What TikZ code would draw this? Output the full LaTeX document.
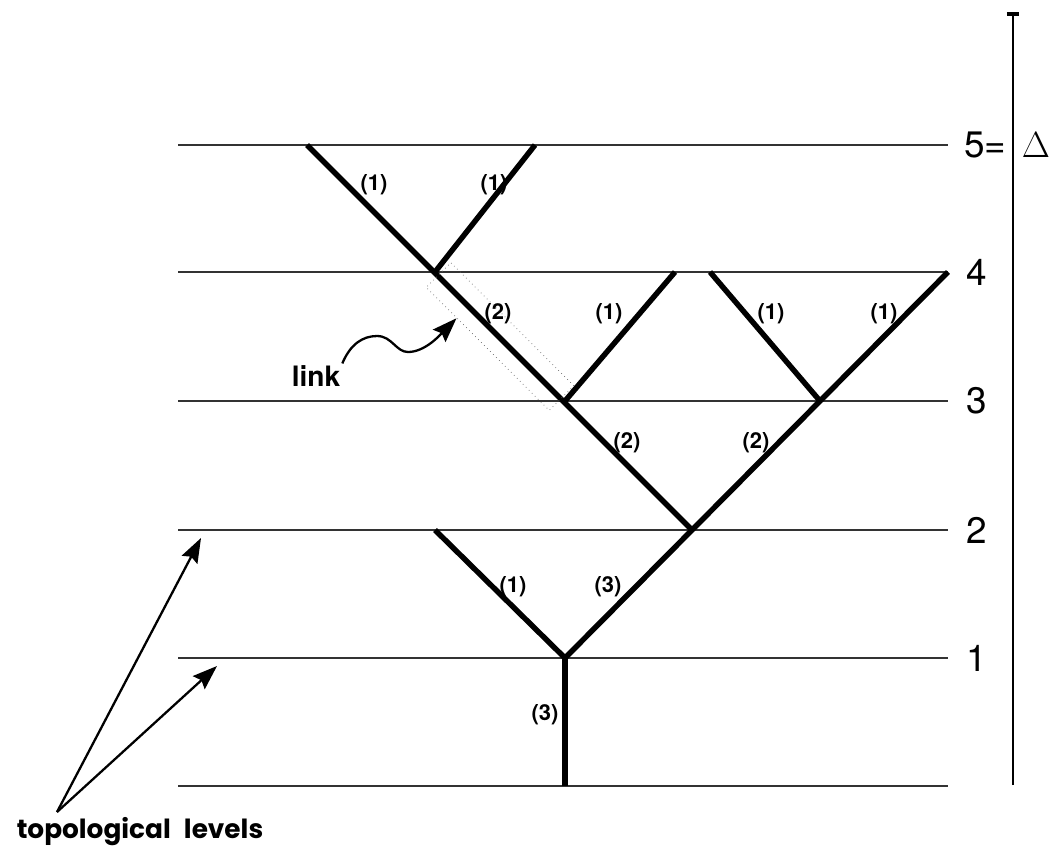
\documentclass[tikz,border=0pt]{standalone}
\usepackage{fontspec}
\setmainfont{TeX Gyre Heros}
\newfontfamily\geofont{Poppins}
\usetikzlibrary{arrows.meta,calc}

\begin{document}
\begin{tikzpicture}[
    x=0.02cm, y=-0.02cm,
    level/.style={line width=0.6pt, black!80},
    branch/.style={line width=3.1pt, line join=miter},
    elab/.style={font=\bfseries\fontsize{12.5}{14}\selectfont, inner sep=0pt},
    levnum/.style={font=\fontsize{21}{24}\selectfont, anchor=west, inner sep=0pt},
    pointer/.style={-{Stealth[length=14pt,width=10pt,inset=2pt]}, line width=1.3pt},
    linkbox/.style={draw=black!60, dotted, line width=0.4pt, rotate=-45,
                    minimum width=3.48cm, minimum height=0.7cm, inner sep=0pt}
  ]
  \useasboundingbox (0,0) rectangle (1057,856);

  % topological levels
  \foreach \y in {145,272,401,530,658,786}
    \draw[level] (178,\y) -- (948,\y);

  \node[levnum] (lev5) at (964,145) {5=};
  \node[font=\fontsize{22}{24}\selectfont, inner sep=0pt] (delta) at (1036,145) {$\Delta$};
  \node[levnum] (lev4) at (966,272) {4};
  \node[levnum] (lev3) at (966,401) {3};
  \node[levnum] (lev2) at (966,530) {2};
  \node[levnum] (lev1) at (966,658) {1};

  \coordinate (axbot) at (1013,785);
  \coordinate (axtop) at (1013,12);
  \draw[line width=0.6pt, -{Bar[width=7pt,line width=2.2pt]}] (axbot) -- (axtop);

  % tree
  \coordinate (r0) at (565,786);
  \coordinate (v1) at (565,658);
  \coordinate (a) at (435,530);
  \coordinate (v2) at (692,530);
  \coordinate (v3) at (565,401);
  \coordinate (v3b) at (820,401);
  \coordinate (v4) at (435,272);
  \coordinate (b) at (675,272);
  \coordinate (c) at (710,272);
  \coordinate (d) at (948,272);
  \coordinate (e) at (307,145);
  \coordinate (f) at (535,145);

  \draw[branch] (r0) -- (v1);
  \draw[branch] (a) -- (v1) -- (d);
  \draw[branch] (v2) -- (e);
  \draw[branch] (v3) -- (b);
  \draw[branch] (c) -- (v3b);
  \draw[branch] (v4) -- (f);

  \node[elab] at (374,185) {(1)};
  \node[elab] at (494,185) {(1)};
  \node[elab] at (498,314) {(2)};
  \node[elab] at (609,314) {(1)};
  \node[elab] at (771,314) {(1)};
  \node[elab] at (884,314) {(1)};
  \node[elab] at (627,443) {(2)};
  \node[elab] at (756,443) {(2)};
  \node[elab] at (513,587) {(1)};
  \node[elab] at (608,587) {(3)};
  \node[elab] at (545,715) {(3)};

  % link
  \node[linkbox] (lnkbox) at ($(v4)!0.5!(v3)$) {};
  \coordinate (lnktip) at ($(lnkbox.south west)!0.5!(lnkbox.south)$);
  \node[font=\bfseries\fontsize{16}{18}\selectfont, inner sep=1pt] (lnk) at (316,376) {link};
  \draw[pointer] (lnk.north east) .. controls (350,345) and (362,336) .. (377,336)
    .. controls (392,336) and (396,352) .. (408,352)
    .. controls (425,352) and (440,335) .. (lnktip);

  \node[font=\geofont\bfseries\fontsize{15}{17}\selectfont, inner sep=0pt] (toplev) at (140,832)
    {topological\hspace{0.5em}levels};
  \coordinate (fork) at (57,812);
  \coordinate (tip2) at (201,538);
  \coordinate (tip1) at (217,666);
  \draw[pointer] (fork) -- (tip2);
  \draw[pointer] (fork) -- (tip1);
\end{tikzpicture}
\end{document}
